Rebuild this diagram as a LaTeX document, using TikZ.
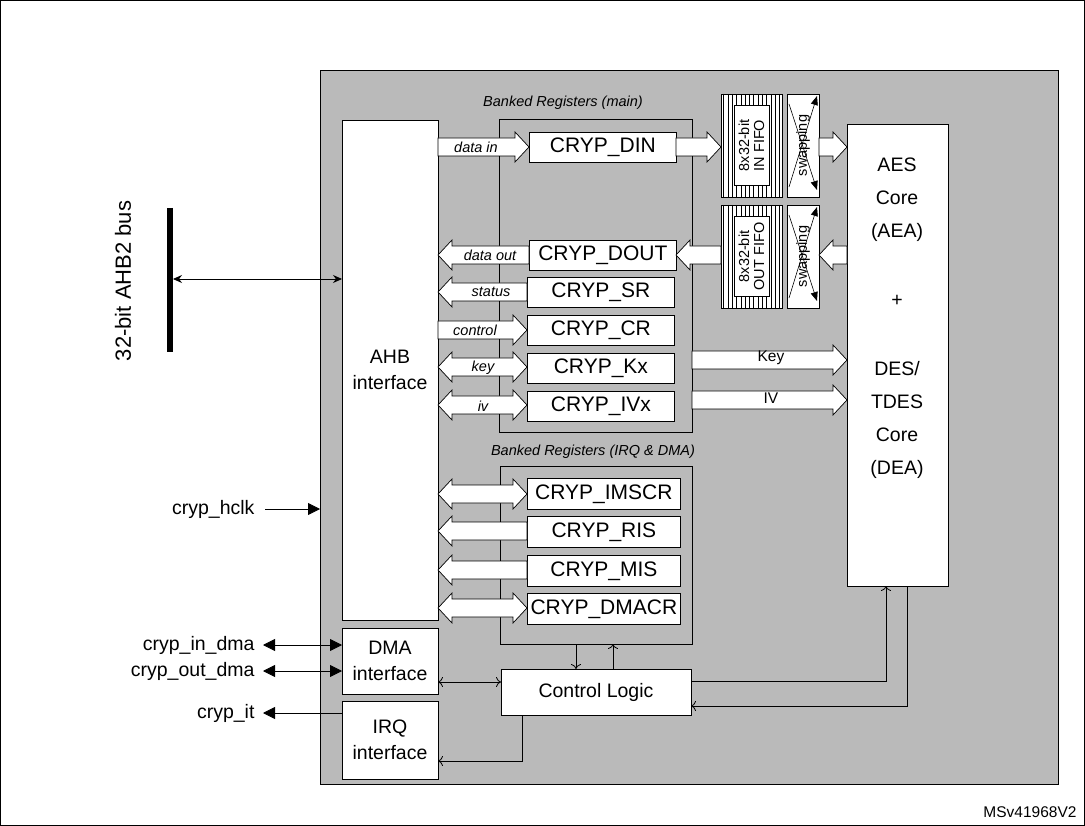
\documentclass[tikz,border=0pt]{standalone}
\usepackage{fontspec}
\setmainfont{Liberation Sans}
\usetikzlibrary{arrows.meta}
\begin{document}
\begin{tikzpicture}[x=1pt,y=-1pt,
  box/.style={draw,fill=white,line width=0.8pt},
  reg/.style={box,minimum width=147pt,minimum height=30pt,anchor=north west,inner sep=0pt,font=\fontsize{21}{21}\selectfont},
  lab/.style={font=\fontsize{19.5}{26}\selectfont},
  small/.style={font=\fontsize{14.5}{15}\selectfont\itshape},
  fat/.style={draw,fill=white,line width=0.7pt},
  thin/.style={line width=0.8pt},
  tri/.tip={Triangle[length=12pt,width=12pt]},
  blk/.style={-{tri}},
  opn/.style={-{To[length=5pt,width=10pt]}}]
\newcommand\fatR[3]{\draw[fat] (#1,#3-9) -- (#2-14,#3-9) -- (#2-14,#3-15) -- (#2,#3) -- (#2-14,#3+15) -- (#2-14,#3+9) -- (#1,#3+9) -- cycle;}
\newcommand\fatL[3]{\draw[fat] (#2,#3-9) -- (#1+14,#3-9) -- (#1+14,#3-15) -- (#1,#3) -- (#1+14,#3+15) -- (#1+14,#3+9) -- (#2,#3+9) -- cycle;}
\newcommand\fatD[3]{\draw[fat] (#1,#3) -- (#1+14,#3-15) -- (#1+14,#3-9) -- (#2-14,#3-9) -- (#2-14,#3-15) -- (#2,#3) -- (#2-14,#3+15) -- (#2-14,#3+9) -- (#1+14,#3+9) -- (#1+14,#3+15) -- cycle;}
\useasboundingbox (0,0) rectangle (1085,826);
\draw[line width=1pt] (0.5,0.5) rectangle (1084.5,825.5);
\node[anchor=south east,font=\fontsize{15.5}{16}\selectfont] (ver) at (1080,821) {MSv41968V2};
% gray block
\draw[fill=black!27,line width=0.8pt] (320,70) rectangle (1058,784);
% AHB
\draw[box] (342,120) rectangle (438,620);
\node[lab,align=center] (ahb) at (390,370) {AHB\\interface};
% main bank
\draw[thin] (499,119) rectangle (692,432);
\node[small] (bm) at (563,103) {Banked Registers (main)};
\node[reg] (din) at (529,132) {CRYP\_DIN};
\node[reg] (dout) at (529,240) {CRYP\_DOUT};
\node[reg] (sr) at (527,277) {CRYP\_SR};
\node[reg] (cr) at (527,315) {CRYP\_CR};
\node[reg] (kx) at (527,353) {CRYP\_Kx};
\node[reg] (ivx) at (527,391) {CRYP\_IVx};
\fatR{438}{529}{147}
\fatL{438}{529}{255}
\fatL{438}{527}{292}
\fatR{438}{527}{330}
\fatD{438}{527}{367}
\fatD{438}{527}{405}
\node[small] at (476,147) {data in};
\node[small] at (490,255) {data out};
\node[small] at (491,292) {status};
\node[small] at (475,330) {control};
\node[small] at (483,368) {key};
\node[small] at (483,406) {iv};
% FIFOs
\foreach \y/\t/\n in {94/IN FIFO/fin,205/OUT FIFO/fout}{
  \draw[box] (721,\y) rectangle (782,\y+103);
  \foreach \i in {0,...,13} \draw[line width=0.4pt] (723.5+4.3*\i,\y) -- (723.5+4.3*\i,\y+103);
  \node[box,minimum width=35pt,minimum height=80pt,inner sep=0pt] (\n) at (751.5,\y+51.5) {};
  \node[rotate=90,align=center,font=\fontsize{14.5}{15}\selectfont] at (751.5,\y+51.5) {8x32-bit\\\t};
  \draw[box] (787,\y) rectangle (819,\y+103);
  \draw[line width=0.6pt,-{Triangle[length=9pt,width=7pt]}] (789,\y+10) -- (817,\y+96);
  \draw[line width=0.6pt,-{Triangle[length=9pt,width=7pt]}] (789,\y+93) -- (817,\y+2);
  \node[rotate=90,font=\fontsize{14.5}{15}\selectfont] at (803,\y+51.5) {swapping};
}
% AES
\draw[box] (847,124) rectangle (948,586);
\node[align=center,font=\fontsize{19.5}{33}\selectfont] (aes) at (897,318) {AES\\Core\\(AEA)\\[36pt]+\\[36pt]DES/\\TDES\\Core\\(DEA)};
\fatR{676}{721}{147}
\fatR{819}{847}{147}
\fatL{676}{721}{255}
\fatL{819}{847}{255}
\fatR{692}{847}{360}
\fatR{692}{847}{400}
\node[font=\fontsize{15.5}{16}\selectfont] at (771,358) {Key};
\node[font=\fontsize{15.5}{16}\selectfont] at (771,398) {IV};
% IRQ & DMA bank
\draw[thin] (500,466) rectangle (692,644);
\node[small] (bi) at (593,452) {Banked Registers (IRQ \& DMA)};
\node[reg,minimum width=153pt,minimum height=31pt] (imscr) at (527,478) {CRYP\_IMSCR};
\node[reg,minimum width=153pt,minimum height=31pt] (ris) at (527,516) {CRYP\_RIS};
\node[reg,minimum width=153pt,minimum height=31pt] (mis) at (527,555) {CRYP\_MIS};
\node[reg,minimum width=153pt,minimum height=31pt] (dmacr) at (527,593) {CRYP\_DMACR};
\fatD{438}{527}{494}
\fatL{438}{527}{531}
\fatL{438}{527}{570}
\fatD{438}{527}{608}
% lower blocks
\draw[box] (342,628) rectangle (438,694);
\node[lab,align=center] (dma) at (390,661) {DMA\\interface};
\draw[box] (342,701) rectangle (438,779);
\node[lab,align=center] (irq) at (390,740) {IRQ\\interface};
\node[box,minimum width=190pt,minimum height=46pt,inner sep=0pt,lab] (cl) at (596,692) {Control Logic};
\draw[thin,opn] (576,644) -- (576,669);
\draw[thin,opn] (613,669) -- (613,644);
\draw[thin,{To[length=5pt,width=10pt]}-{To[length=5pt,width=10pt]}] (438,682) -- (501,682);
\draw[thin,opn] (691,681) -- (886,681) -- (886,586);
\draw[thin,opn] (907,586) -- (907,706) -- (691,706);
\draw[thin,opn] (522,715) -- (522,761) -- (438,761);
% external signals
\draw[line width=6pt] (170,208) -- (170,352);
\node[rotate=90,font=\fontsize{22}{24}\selectfont] (bus) at (123,281) {32-bit AHB2 bus};
\draw[thin,{Stealth[length=9pt,width=8pt]}-{Stealth[length=9pt,width=8pt]}] (173,279) -- (342,279);
\node[lab,anchor=east] (hclk) at (258,509) {cryp\_hclk};
\draw[thin,blk] (265,509) -- (320,509);
\node[lab,anchor=east] (ind) at (258,645) {cryp\_in\_dma};
\draw[thin,{tri}-{tri}] (263,645) -- (342,645);
\node[lab,anchor=east] (outd) at (258,671) {cryp\_out\_dma};
\draw[thin,{tri}-{tri}] (263,671) -- (342,671);
\node[lab,anchor=east] (it) at (258,713) {cryp\_it};
\draw[thin,blk] (342,713) -- (263,713);
\end{tikzpicture}
\end{document}
